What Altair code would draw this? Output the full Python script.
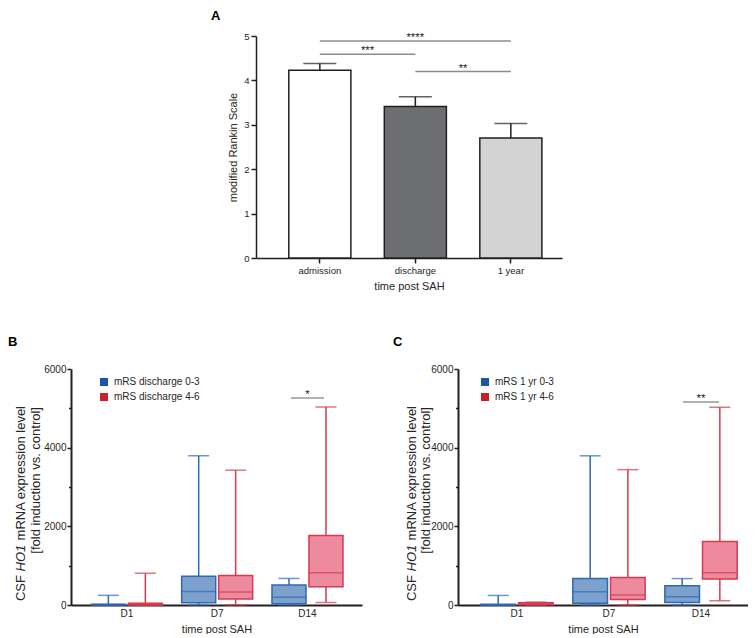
import altair as alt
import pandas as pd

FONT = "Liberation Sans"
INK = "#231f20"
LABEL = "#262626"

# ---------------- Panel A data ----------------
a_categories = ["admission", "discharge", "1 year"]
a_mean = [4.23, 3.41, 2.70]
a_err_top = [4.38, 3.63, 3.03]
a_fill = ["#ffffff", "#6d6e71", "#d3d3d3"]
a_sig_from = ["admission", "admission", "discharge"]
a_sig_to = ["1 year", "discharge", "1 year"]
a_sig_y = [4.89, 4.59, 4.20]
a_sig_label = ["****", "***", "**"]
a_sig_span = [2, 1, 1]

# ---------------- Panels B / C data ----------------
days = ["D1", "D7", "D14"]

b_groups = ["mRS discharge 0-3", "mRS discharge 4-6"]
b_min = [0, 0, 0, 0, 0, 65]
b_q1 = [0, 0, 60, 150, 33, 462]
b_med = [10, 15, 342, 330, 200, 822]
b_q3 = [22, 45, 732, 748, 510, 1765]
b_max = [245, 808, 3795, 3427, 675, 5034]
b_sig_day = ["D14"]
b_sig_y = [5265]
b_sig_label = ["*"]

c_groups = ["mRS 1 yr 0-3", "mRS 1 yr 4-6"]
c_min = [0, 0, 0, 0, 0, 105]
c_q1 = [0, 5, 42, 143, 65, 660]
c_med = [8, 35, 336, 252, 212, 823]
c_q3 = [20, 58, 671, 696, 487, 1612]
c_max = [243, 75, 3793, 3441, 672, 5027]
c_sig_day = ["D14"]
c_sig_y = [5161]
c_sig_label = ["**"]

fill_colors = ["#7ca1cc", "#ee8a9e"]
stroke_colors = ["#3069b2", "#d63a4c"]
legend_colors = ["#1d56a6", "#c8202f"]

# ---------------- Panel A ----------------
A_W, A_H = 306, 222
A_PI, A_PO, A_AL = 0.35, 0.277, 0.62
step_a = A_W / (3 - A_PI + 2 * A_PO)

dfa = pd.DataFrame({"cat": a_categories, "mean": a_mean, "top": a_err_top})
dfs = pd.DataFrame({"cat": a_sig_from, "to": a_sig_to, "y": a_sig_y,
                    "label": a_sig_label, "span": a_sig_span})

xs_a = alt.Scale(domain=a_categories, paddingInner=A_PI, paddingOuter=A_PO, align=A_AL)
ax_xa = alt.Axis(labelAngle=0, tickSize=5, tickWidth=1.5, tickColor=INK,
                 domainColor=INK, domainWidth=1.5, labelFontSize=9.5,
                 labelPadding=2, labelColor=LABEL, titleFontSize=11,
                 titleFontWeight="normal", titlePadding=6, titleColor=LABEL)
ax_ya = alt.Axis(values=[0, 1, 2, 3, 4, 5], tickSize=5, tickWidth=1.5,
                 tickColor=INK, domainColor=INK, domainWidth=1.5, grid=False,
                 labelFontSize=9.5, labelPadding=2, labelColor=LABEL,
                 titleFontSize=11, titleFontWeight="normal", titlePadding=5,
                 titleColor=LABEL)


def xa(field="cat"):
    return alt.X(f"{field}:N", scale=xs_a, axis=ax_xa, title="time post SAH",
                 sort=a_categories)


def ya(field):
    return alt.Y(f"{field}:Q", scale=alt.Scale(domain=[0, 5], nice=False),
                 axis=ax_ya, title="modified Rankin Scale")


bars_a = alt.Chart(dfa).mark_bar(stroke=INK, strokeWidth=1.5).encode(
    x=xa(), y=ya("mean"),
    fill=alt.Fill("cat:N", scale=alt.Scale(domain=a_categories, range=a_fill),
                  legend=None))
err_a = alt.Chart(dfa).mark_rule(color=INK, strokeWidth=1.5).encode(
    x=xa(), y=ya("mean"), y2="top")
cap_a = alt.Chart(dfa).mark_tick(color=INK, thickness=1.5, size=33).encode(
    x=xa(), y=ya("top"))
sigl_a = alt.Chart(dfs).mark_rule(color="#8c8c8c", strokeWidth=1.5).encode(
    x=xa(), x2="to:N", y=ya("y"))
sigt1_a = alt.Chart(dfs).transform_filter("datum.span == 1").mark_text(
    dx=step_a / 2, baseline="alphabetic", fontSize=11.5, color=INK).encode(
    x=xa(), y=ya("y"), text="label:N")
sigt2_a = alt.Chart(dfs).transform_filter("datum.span == 2").mark_text(
    dx=step_a, baseline="alphabetic", fontSize=11.5, color=INK).encode(
    x=xa(), y=ya("y"), text="label:N")
letter_a = alt.Chart(pd.DataFrame({"t": ["A"]})).mark_text(
    align="left", baseline="top", fontSize=13, fontWeight="bold", color="#000").encode(
    x=alt.value(-45), y=alt.value(-26), text="t:N")

chart_a = alt.layer(bars_a, err_a, cap_a, sigl_a, sigt1_a, sigt2_a, letter_a).properties(
    width=A_W, height=A_H)

spacer = alt.Chart(pd.DataFrame({"t": [""]})).mark_text().encode(
    x=alt.value(0), y=alt.value(0), text="t:N").properties(width=120, height=10)


# ---------------- Panels B / C ----------------
def ytitle_layers(x1, x2, end1, end2, fs=13):
    w_rest = 10.391 * fs
    sp = 0.278 * fs
    w_ho = 2.056 * fs
    pieces = [
        ("mRNA expression level", "normal", x1, end1),
        ("HO1", "italic", x1, end1 + w_rest + sp),
        ("CSF", "normal", x1, end1 + w_rest + sp + w_ho + sp),
        ("[fold induction vs. control]", "normal", x2, end2),
    ]
    out = []
    for txt, style, px, py in pieces:
        out.append(alt.Chart(pd.DataFrame({"t": [txt]})).mark_text(
            angle=270, align="right", baseline="middle", fontSize=fs,
            fontStyle=style, color=LABEL).encode(
            x=alt.value(px), y=alt.value(py), text="t:N"))
    return out


def box_panel(letter, groups, mins, q1s, meds, q3s, maxs, sig_day, sig_y, sig_label,
              width, height, x_po, x_align, legend_x, legend_y,
              t_x1, t_x2, t_end1, t_end2, letter_dx, sig_size):
    df = pd.DataFrame({
        "day": [d for d in days for _ in groups],
        "group": list(groups) * len(days),
        "lo": mins, "q1": q1s, "med": meds, "q3": q3s, "hi": maxs,
    })
    dsig = pd.DataFrame({"day": sig_day, "y": sig_y, "label": sig_label})

    xscale = alt.Scale(domain=days, paddingInner=0.15, paddingOuter=x_po, align=x_align)
    xaxis = alt.Axis(labelAngle=0, ticks=False, domainColor=INK, domainWidth=2,
                     labelFontSize=10, labelPadding=3, labelColor=LABEL,
                     titleFontSize=11, titleFontWeight="normal", titlePadding=5,
                     titleColor=LABEL)
    yaxis = alt.Axis(values=list(range(0, 6001, 1000)), format="d",
                     labelExpr="datum.value % 2000 === 0 ? datum.label : ''",
                     tickSize={"condition": {"test": "datum.value % 2000 !== 0", "value": 2.5},
                               "value": 4},
                     tickWidth=1.5, tickColor=INK, domainColor=INK, domainWidth=2,
                     grid=False, labelFontSize=10, labelPadding=1, labelColor=LABEL)

    def X():
        return alt.X("day:N", scale=xscale, axis=xaxis, title="time post SAH", sort=days)

    def XO():
        return alt.XOffset("group:N", sort=groups,
                           scale=alt.Scale(domain=groups, paddingInner=0.08, paddingOuter=0.078))

    def Y(field):
        return alt.Y(f"{field}:Q", scale=alt.Scale(domain=[0, 6000], nice=False),
                     axis=yaxis, title=None)

    def C():
        return alt.Color("group:N", sort=groups,
                         scale=alt.Scale(domain=groups, range=stroke_colors), legend=None)

    whisk = alt.Chart(df).mark_rule(strokeWidth=1.5).encode(
        x=X(), xOffset=XO(), y=Y("lo"), y2="hi", color=C())
    box = alt.Chart(df).mark_bar(strokeWidth=1.5).encode(
        x=X(), xOffset=XO(), y=Y("q1"), y2="q3",
        fill=alt.Fill("group:N", sort=groups,
                      scale=alt.Scale(domain=groups, range=fill_colors), legend=None),
        stroke=alt.Stroke("group:N", sort=groups,
                          scale=alt.Scale(domain=groups, range=stroke_colors), legend=None))
    med = alt.Chart(df).mark_tick(thickness=1.5, size=34).encode(
        x=X(), xOffset=XO(), y=Y("med"), color=C())
    cap_hi = alt.Chart(df).mark_tick(thickness=1.5, size=21).encode(
        x=X(), xOffset=XO(), y=Y("hi"), color=C())
    cap_lo = alt.Chart(df).mark_tick(thickness=1.5, size=21).encode(
        x=X(), xOffset=XO(), y=Y("lo"), color=C())
    leg = alt.Chart(df).mark_square(size=0).encode(
        x=X(), xOffset=XO(), y=Y("med"),
        color=alt.Color("group:N", sort=groups,
                        scale=alt.Scale(domain=groups, range=legend_colors),
                        legend=alt.Legend(title=None, orient="none", legendX=legend_x,
                                          legendY=legend_y, symbolType="square",
                                          symbolSize=64, symbolOpacity=1,
                                          symbolStrokeWidth=0, labelFont=FONT,
                                          labelFontSize=10, labelColor=LABEL,
                                          labelOffset=5, rowPadding=5, padding=0)))
    sig_t = alt.Chart(dsig).mark_tick(thickness=1.5, size=sig_size, color="#6b6b6b").encode(
        x=X(), y=Y("y"))
    sig_txt = alt.Chart(dsig).mark_text(baseline="alphabetic", fontSize=11.5, color=INK).encode(
        x=X(), y=Y("y"), text="label:N")
    let = alt.Chart(pd.DataFrame({"t": [letter]})).mark_text(
        align="left", baseline="top", fontSize=13, fontWeight="bold", color="#000").encode(
        x=alt.value(letter_dx), y=alt.value(-33), text="t:N")

    layers = [whisk, box, med, cap_hi, cap_lo, leg, sig_t, sig_txt, let]
    layers += ytitle_layers(t_x1, t_x2, t_end1, t_end2)
    return alt.layer(*layers).resolve_scale(color="independent").properties(
        width=width, height=height)


chart_b = box_panel("B", b_groups, b_min, b_q1, b_med, b_q3, b_max,
                    b_sig_day, b_sig_y, b_sig_label,
                    width=291, height=236, x_po=0.186, x_align=0.52,
                    legend_x=28, legend_y=8, t_x1=-50, t_x2=-35,
                    t_end1=37, t_end2=38, letter_dx=-63, sig_size=33)
chart_c = box_panel("C", c_groups, c_min, c_q1, c_med, c_q3, c_max,
                    c_sig_day, c_sig_y, c_sig_label,
                    width=290, height=236, x_po=0.151, x_align=0.716,
                    legend_x=22, legend_y=8, t_x1=-46, t_x2=-32,
                    t_end1=37, t_end2=38, letter_dx=-65, sig_size=36)

RES = dict(fill="independent", stroke="independent", color="independent",
           xOffset="independent")

top_row = alt.hconcat(spacer, chart_a, spacing=20).resolve_scale(**RES)
bottom_row = alt.hconcat(chart_b, chart_c, spacing=31).resolve_scale(**RES)

chart = alt.vconcat(top_row, bottom_row, spacing=44).resolve_scale(**RES).properties(
    padding={"left": 0, "top": 2, "right": 0, "bottom": 0}
).configure(font=FONT).configure_view(stroke=None).configure_axis(
    labelFont=FONT, titleFont=FONT
).configure_text(font=FONT)

chart.save("out.html", embed_options={"renderer": "svg", "actions": False})
